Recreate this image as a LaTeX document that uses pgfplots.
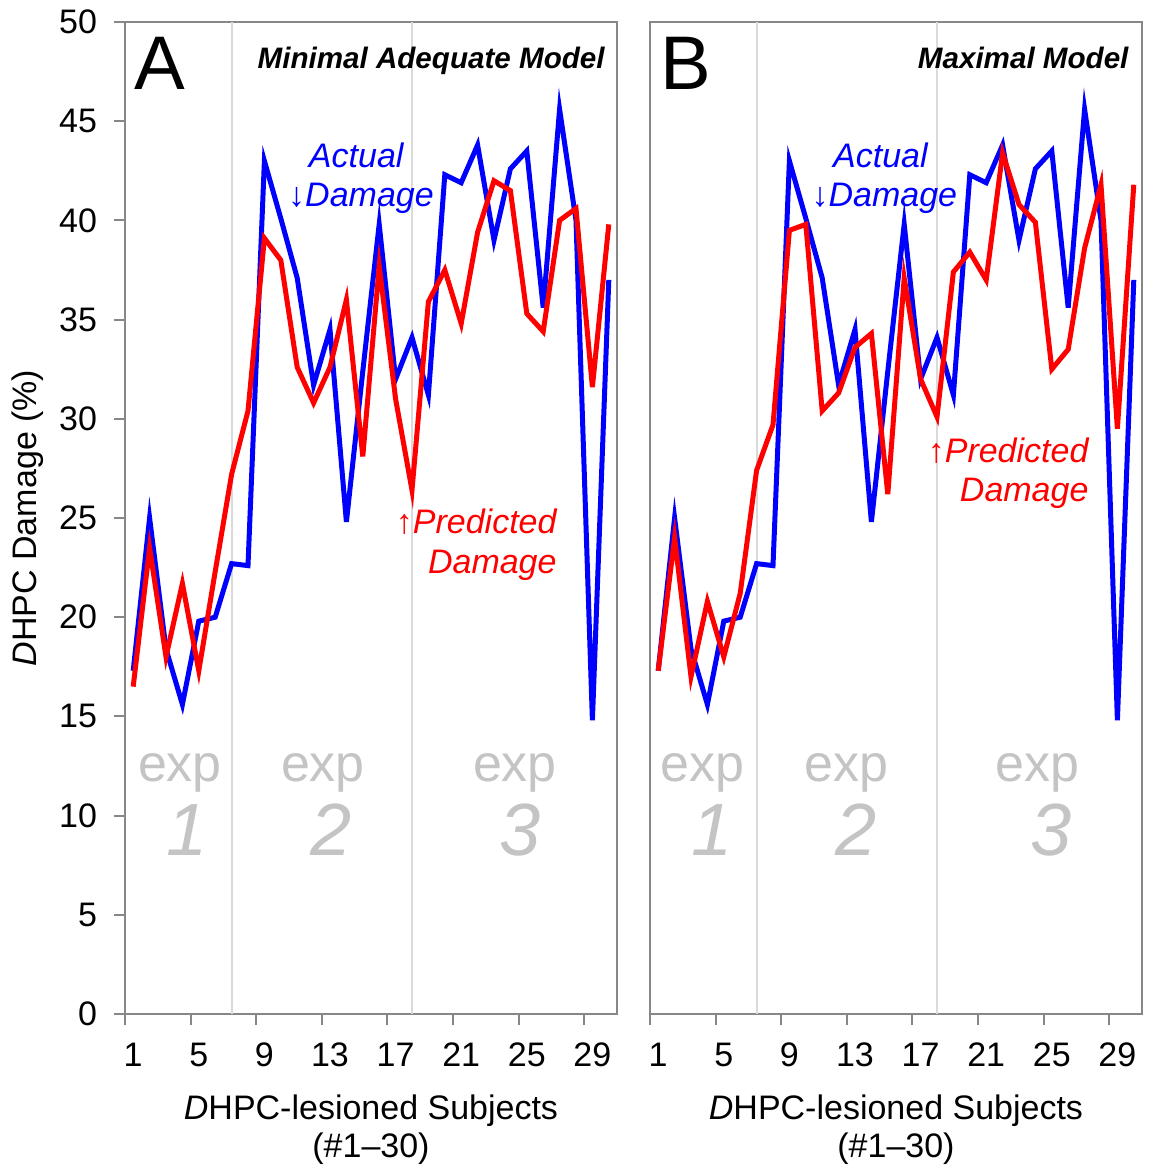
\documentclass[border=0pt]{standalone}
\usepackage{fontspec}
\setmainfont{Liberation Sans}
\usepackage{pgfplots}
\usepackage{pgfplotstable}
\pgfplotsset{compat=1.18}
\definecolor{fr}{RGB}{135,135,135}
\definecolor{sepc}{RGB}{218,218,218}
\definecolor{expg}{RGB}{196,196,196}
\definecolor{myblue}{RGB}{0,0,255}
\definecolor{myred}{RGB}{255,0,0}

\pgfplotstableread{
s act predA predB
1 17.3 16.5 17.3
2 25.0 23.5 24.0
3 18.4 18.0 17.0
4 15.6 21.7 20.8
5 19.8 17.3 18.0
6 20.0 22.3 21.2
7 22.7 27.2 27.4
8 22.6 30.4 29.7
9 43.0 39.1 39.5
10 40.1 38.0 39.8
11 37.1 32.6 30.4
12 31.7 30.8 31.3
13 34.5 32.6 33.6
14 24.8 36.0 34.3
15 32.4 28.1 26.2
16 39.8 37.7 37.1
17 32.0 31.0 32.0
18 34.1 26.4 30.1
19 31.2 35.9 37.4
20 42.3 37.5 38.4
21 41.9 34.8 37.0
22 43.8 39.4 43.4
23 39.0 42.0 40.8
24 42.6 41.5 39.9
25 43.5 35.3 32.5
26 35.6 34.4 33.5
27 45.6 40.0 38.6
28 40.0 40.6 41.8
29 14.8 31.6 29.5
30 37.0 39.8 41.8
}\data

\pgfplotsset{panel/.style={
  width=246pt, height=496pt, scale only axis,
  xmin=0.5, xmax=30.5, ymin=0, ymax=50,
  axis line style={fr, line width=1pt},
  tick style={fr, line width=1pt},
  tick align=outside,
  major tick length=5.5pt,
  xtick={0.5,4.5,8.5,12.5,16.5,20.5,24.5,28.5},
  xticklabels={1,5,9,13,17,21,25,29},
  xticklabel style={xshift=4.1pt, yshift=-5.5pt},
  yticklabel style={xshift=-5pt},
  xtick pos=bottom, ytick pos=left,
  clip=false,
  ticklabel style={font=\fontsize{17}{20}\selectfont, text=black},
  /pgf/number format/assume math mode=true,
}}
\newcommand{\annfont}{\fontsize{17}{20}\selectfont\itshape}
\newcommand{\expfont}{\fontsize{26}{30}\selectfont}
\newcommand{\numfont}{\fontsize{37}{40}\selectfont\itshape}

\begin{document}
\begin{tikzpicture}
\path[use as bounding box] (-62.5pt,-77pt) rectangle (512.5pt,507pt);
% ---------------- Panel A ----------------
\begin{axis}[panel, at={(0pt,0pt)}, anchor=south west,
  ytick={0,5,10,15,20,25,30,35,40,45,50}]
\addplot[sepc, line width=1pt] coordinates {(7,0) (7,50)};
\addplot[sepc, line width=1pt] coordinates {(18,0) (18,50)};
\node[expg, font=\expfont, anchor=base, inner sep=0] at (axis cs:3.85,11.74) {exp};
\node[expg, font=\expfont, anchor=base, inner sep=0] at (axis cs:12.57,11.74) {exp};
\node[expg, font=\expfont, anchor=base, inner sep=0] at (axis cs:24.28,11.74) {exp};
\node[expg, font=\numfont, anchor=base, inner sep=0] at (axis cs:4.28,8.01) {1};
\node[expg, font=\numfont, anchor=base, inner sep=0] at (axis cs:13.06,8.01) {2};
\node[expg, font=\numfont, anchor=base, inner sep=0] at (axis cs:24.59,8.01) {3};
\addplot[myblue, line width=2.5pt, line join=miter, miter limit=10] table[x=s, y=act] {\data};
\addplot[myred, line width=2.5pt, line join=miter, miter limit=10] table[x=s, y=predA] {\data};
\node[anchor=base west, inner sep=0, font=\fontsize{38}{40}\selectfont] at (axis cs:1.05,46.62) {A};
\node[anchor=base east, inner sep=0, font=\fontsize{14.8}{17}\selectfont\bfseries\itshape] at (axis cs:29.77,47.66) {Minimal Adequate Model};
\node[myblue, anchor=base, inner sep=0, font=\annfont] at (axis cs:14.6,42.69) {Actual};
\node[myblue, anchor=base, inner sep=0, font=\annfont] at (axis cs:14.89,40.68) {\textup{↓}Damage};
\node[myred, anchor=base east, inner sep=0, font=\annfont] at (axis cs:26.84,24.24) {\textup{↑}Predicted};
\node[myred, anchor=base east, inner sep=0, font=\annfont] at (axis cs:26.84,22.18) {Damage};
\node[rotate=90, font=\fontsize{17}{20}\selectfont] at (rel axis cs:-0.197,0.5) {\textit{D}HPC Damage (\%)};
\node[align=center, font=\fontsize{17}{19}\selectfont] at (rel axis cs:0.5,-0.117) {\textit{D}HPC-lesioned Subjects\\(\#1--30)};
\end{axis}
% ---------------- Panel B ----------------
\begin{axis}[panel, at={(262.5pt,0pt)}, anchor=south west, ytick=\empty]
\addplot[sepc, line width=1pt] coordinates {(7,0) (7,50)};
\addplot[sepc, line width=1pt] coordinates {(18,0) (18,50)};
\node[expg, font=\expfont, anchor=base, inner sep=0] at (axis cs:3.68,11.74) {exp};
\node[expg, font=\expfont, anchor=base, inner sep=0] at (axis cs:12.47,11.74) {exp};
\node[expg, font=\expfont, anchor=base, inner sep=0] at (axis cs:24.14,11.74) {exp};
\node[expg, font=\numfont, anchor=base, inner sep=0] at (axis cs:4.29,8.01) {1};
\node[expg, font=\numfont, anchor=base, inner sep=0] at (axis cs:13.08,8.01) {2};
\node[expg, font=\numfont, anchor=base, inner sep=0] at (axis cs:24.93,8.01) {3};
\addplot[myblue, line width=2.5pt, line join=miter, miter limit=10] table[x=s, y=act] {\data};
\addplot[myred, line width=2.5pt, line join=miter, miter limit=10] table[x=s, y=predB] {\data};
\node[anchor=base west, inner sep=0, font=\fontsize{38}{40}\selectfont] at (axis cs:1.11,46.62) {B};
\node[anchor=base east, inner sep=0, font=\fontsize{14.8}{17}\selectfont\bfseries\itshape] at (axis cs:29.7,47.66) {Maximal Model};
\node[myblue, anchor=base, inner sep=0, font=\annfont] at (axis cs:14.55,42.69) {Actual};
\node[myblue, anchor=base, inner sep=0, font=\annfont] at (axis cs:14.79,40.68) {\textup{↓}Damage};
\node[myred, anchor=base east, inner sep=0, font=\annfont] at (axis cs:27.26,27.82) {\textup{↑}Predicted};
\node[myred, anchor=base east, inner sep=0, font=\annfont] at (axis cs:27.26,25.81) {Damage};
\node[align=center, font=\fontsize{17}{19}\selectfont] at (rel axis cs:0.5,-0.117) {\textit{D}HPC-lesioned Subjects\\(\#1--30)};
\end{axis}
\end{tikzpicture}
\end{document}
